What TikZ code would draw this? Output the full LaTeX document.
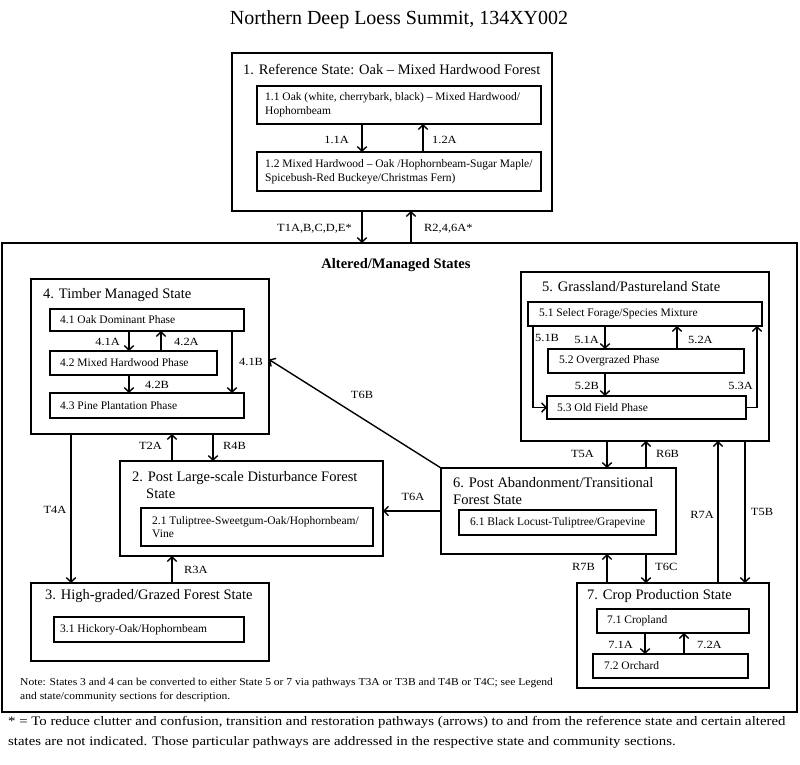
\documentclass[tikz,border=0pt]{standalone}
\usepackage{fontspec}
\setmainfont{Liberation Serif}
\newfontfamily\widelbl[FakeStretch=1.13]{Liberation Serif}
\newfontfamily\widenote[FakeStretch=1.10]{Liberation Serif}
\newfontfamily\widefoot[FakeStretch=1.14]{Liberation Serif}
\usetikzlibrary{arrows.meta}
\begin{document}
\begin{tikzpicture}[x=1pt,y=-1pt,
  stbox/.style={draw,line width=1.6pt,inner sep=0pt,outer sep=0pt,anchor=north west},
  phbox/.style={draw,line width=1.1pt,inner sep=0pt,outer sep=0pt,anchor=north west},
  sttext/.style={anchor=west,inner sep=0pt,align=left,font=\fontsize{14.5}{17}\selectfont},
  phtext/.style={anchor=west,inner sep=0pt,align=left,font=\fontsize{11.5}{13.8}\selectfont},
  lbl/.style={inner sep=0pt,font=\widelbl\fontsize{11}{13}\selectfont},
  arr/.style={line width=1.4pt,-{Straight Barb[length=4.5pt,width=9.5pt,line width=1.4pt]}}]
\useasboundingbox (0,0) rectangle (800,764);
\fill[white] (0,0) rectangle (800,764);
% title
\node[inner sep=0pt,font=\fontsize{20}{24}\selectfont] (title) at (399,20) {Northern Deep Loess Summit, 134XY002};
% reference state
\node[stbox,minimum width=320,minimum height=158] (s1) at (232,53) {};
\node[sttext] (t1) at (243,69) {1. Reference State: Oak -- Mixed Hardwood Forest};
\node[phbox,minimum width=284,minimum height=38] (b11) at (257,86) {};
\node[phtext] (t11) at ([xshift=8]b11.west) {1.1 Oak (white, cherrybark, black) -- Mixed Hardwood/\\Hophornbeam};
\node[phbox,minimum width=284,minimum height=39] (b12) at (257,152) {};
\node[phtext] (t12) at ([xshift=8]b12.west) {1.2 Mixed Hardwood -- Oak /Hophornbeam-Sugar Maple/\\Spicebush-Red Buckeye/Christmas Fern)};
% big box
\node[draw,line width=2.6pt,inner sep=0pt,outer sep=0pt,anchor=north west,minimum width=795,minimum height=469] (big) at (2,243) {};
\node[inner sep=0pt,font=\fontsize{14.5}{16}\selectfont\bfseries] (alt) at (396,265) {Altered/Managed States};
% state 4
\node[stbox,minimum width=238,minimum height=155] (s4) at (31,279) {};
\node[sttext] (t4) at (43,295) {4. Timber Managed State};
\node[phbox,minimum width=194,minimum height=22] (b41) at (50,309) {};
\node[phtext] (t41) at ([xshift=10]b41.west) {4.1 Oak Dominant Phase};
\node[phbox,minimum width=167,minimum height=24] (b42) at (50,351) {};
\node[phtext] (t42) at ([xshift=10]b42.west) {4.2 Mixed Hardwood Phase};
\node[phbox,minimum width=194,minimum height=25] (b43) at (50,393) {};
\node[phtext] (t43) at ([xshift=10]b43.west) {4.3 Pine Plantation Phase};
% state 5
\node[stbox,minimum width=248,minimum height=169] (s5) at (521,272) {};
\node[sttext] (t5) at (542,287) {5. Grassland/Pastureland State};
\node[phbox,minimum width=234,minimum height=24] (b51) at (528,302) {};
\node[phtext] (t51) at ([xshift=11]b51.west) {5.1 Select Forage/Species Mixture};
\node[phbox,minimum width=196,minimum height=24] (b52) at (548,349) {};
\node[phtext] (t52) at ([xshift=11]b52.west) {5.2 Overgrazed Phase};
\node[phbox,minimum width=199,minimum height=23] (b53) at (547,396) {};
\node[phtext] (t53) at ([xshift=10]b53.west) {5.3 Old Field Phase};
% state 2
\node[stbox,minimum width=263,minimum height=95] (s2) at (120,461) {};
\node[sttext] (t2) at (132,485) {2. Post Large-scale Disturbance Forest\\\hspace*{14pt}State};
\node[phbox,minimum width=232,minimum height=38] (b21) at (141,508) {};
\node[phtext] (t21) at ([xshift=11]b21.west) {2.1 Tuliptree-Sweetgum-Oak/Hophornbeam/\\Vine};
% state 3
\node[stbox,minimum width=238,minimum height=78] (s3) at (31,583) {};
\node[sttext] (t3) at (45,596) {3. High-graded/Grazed Forest State};
\node[phbox,minimum width=190,minimum height=25] (b31) at (54,617) {};
\node[phtext] (t31) at ([xshift=6]b31.west) {3.1 Hickory-Oak/Hophornbeam};
% state 6
\node[stbox,minimum width=235,minimum height=86] (s6) at (441,468) {};
\node[sttext] (t6) at (453,491) {6. Post Abandonment/Transitional\\Forest State};
\node[phbox,minimum width=197,minimum height=25] (b61) at (459,510) {};
\node[phtext] (t61) at ([xshift=11]b61.west) {6.1 Black Locust-Tuliptree/Grapevine};
% state 7
\node[stbox,minimum width=192,minimum height=105] (s7) at (577,583) {};
\node[sttext] (t7) at (587,596) {7. Crop Production State};
\node[phbox,minimum width=152,minimum height=24] (b71) at (597,609) {};
\node[phtext] (t71) at ([xshift=10]b71.west) {7.1 Cropland};
\node[phbox,minimum width=155,minimum height=24] (b72) at (593,654) {};
\node[phtext] (t72) at ([xshift=11]b72.west) {7.2 Orchard};
% x positions
\coordinate (xa) at (362,0); \coordinate (xb) at (423,0); \coordinate (xc) at (411,0);
\coordinate (x129) at (129,0); \coordinate (x161) at (161,0); \coordinate (x232) at (232,0);
\coordinate (x172) at (172,0); \coordinate (x213) at (213,0); \coordinate (x71) at (71,0);
\coordinate (x607) at (607,0); \coordinate (x646) at (646,0); \coordinate (x718) at (718,0);
\coordinate (x745) at (745,0); \coordinate (x645) at (645,0); \coordinate (x684) at (684,0);
\coordinate (x605) at (605,0); \coordinate (x677) at (677,0); \coordinate (x533) at (533,0);
\coordinate (x757) at (757,0);
% arrows in state 1
\draw[arr] (b11.south -| xa) -- (b12.north -| xa);
\draw[arr] (b12.north -| xb) -- (b11.south -| xb);
\node[lbl,anchor=east] (l11a) at (349,140) {1.1A};
\node[lbl,anchor=west] (l12a) at (432,140) {1.2A};
\draw[arr] (s1.south -| xa) -- (big.north -| xa);
\draw[arr] (big.north -| xc) -- (s1.south -| xc);
\node[lbl,anchor=east] (lt1) at (352,229) {T1A,B,C,D,E*};
\node[lbl,anchor=west] (lr2) at (424,229) {R2,4,6A*};
% state 4 arrows
\draw[arr] (b41.south -| x129) -- (b42.north -| x129);
\draw[arr] (b42.north -| x161) -- (b41.south -| x161);
\draw[arr] (b42.south -| x129) -- (b43.north -| x129);
\draw[arr] (b41.south -| x232) -- (b43.north -| x232);
\node[lbl,anchor=east] (l41a) at (120,342) {4.1A};
\node[lbl,anchor=west] (l42a) at (174,342) {4.2A};
\node[lbl,anchor=west] (l42b) at (145,385) {4.2B};
\node[lbl,anchor=west] (l41b) at (239,362) {4.1B};
% state 5 arrows
\draw[arr] (b51.south -| x605) -- (b52.north -| x605);
\draw[arr] (b52.north -| x677) -- (b51.south -| x677);
\draw[arr] (b52.south -| x605) -- (b53.north -| x605);
\draw[arr] (b51.south -| x533) |- (b53.west);
\draw[arr] (b53.east) -| (b51.south -| x757);
\node[lbl,anchor=east] (l51a) at (599,340) {5.1A};
\node[lbl,anchor=west] (l52a) at (688,340) {5.2A};
\node[lbl,anchor=east] (l52b) at (599,386) {5.2B};
\node[lbl,anchor=west] (l51b) at (535,338) {5.1B};
\node[lbl,anchor=east] (l53a) at (753,386) {5.3A};
% state 7 arrows
\draw[arr] (b71.south -| x645) -- (b72.north -| x645);
\draw[arr] (b72.north -| x684) -- (b71.south -| x684);
\node[lbl,anchor=east] (l71a) at (633,645) {7.1A};
\node[lbl,anchor=west] (l72a) at (697,645) {7.2A};
% transitions between states
\draw[arr] (s6.north west) -- ([yshift=-3]s4.east);
\node[lbl] (lt6b) at (362,395) {T6B};
\draw[arr] (s2.north -| x172) -- (s4.south -| x172);
\draw[arr] (s4.south -| x213) -- (s2.north -| x213);
\node[lbl,anchor=east] (lt2a) at (162,446) {T2A};
\node[lbl,anchor=west] (lr4b) at (223,446) {R4B};
\draw[arr] (s4.south -| x71) -- (s3.north -| x71);
\node[lbl] (lt4a) at (55,510) {T4A};
\draw[arr] (s3.north -| x172) -- (s2.south -| x172);
\node[lbl,anchor=west] (lr3a) at (184,570) {R3A};
\draw[arr] (s6.west) -- (s2.east |- s6.west);
\node[lbl] (lt6a) at (413,497) {T6A};
\draw[arr] (s5.south -| x607) -- (s6.north -| x607);
\draw[arr] (s6.north -| x646) -- (s5.south -| x646);
\node[lbl,anchor=east] (lt5a) at (594,454) {T5A};
\node[lbl,anchor=west] (lr6b) at (656,454) {R6B};
\draw[arr] (s7.north -| x607) -- (s6.south -| x607);
\draw[arr] (s6.south -| x646) -- (s7.north -| x646);
\node[lbl,anchor=east] (lr7b) at (595,567) {R7B};
\node[lbl,anchor=west] (lt6c) at (655,567) {T6C};
\draw[arr] (s7.north -| x718) -- (s5.south -| x718);
\node[lbl] (lr7a) at (702,515) {R7A};
\draw[arr] (s5.south -| x745) -- (s7.north -| x745);
\node[lbl] (lt5b) at (762,512) {T5B};
% note
\node[inner sep=0pt,anchor=west,align=left,font=\widenote\fontsize{10.5}{14}\selectfont] (note) at (20,690) {Note: States 3 and 4 can be converted to either State 5 or 7 via pathways T3A or T3B and T4B or T4C; see Legend\\and state/community sections for description.};
% footer
\node[inner sep=0pt,anchor=west,align=left,font=\widefoot\fontsize{13}{20}\selectfont] (foot) at (8,732) {* = To reduce clutter and confusion, transition and restoration pathways (arrows) to and from the reference state and certain altered\\states are not indicated. Those particular pathways are addressed in the respective state and community sections.};
\end{tikzpicture}
\end{document}
